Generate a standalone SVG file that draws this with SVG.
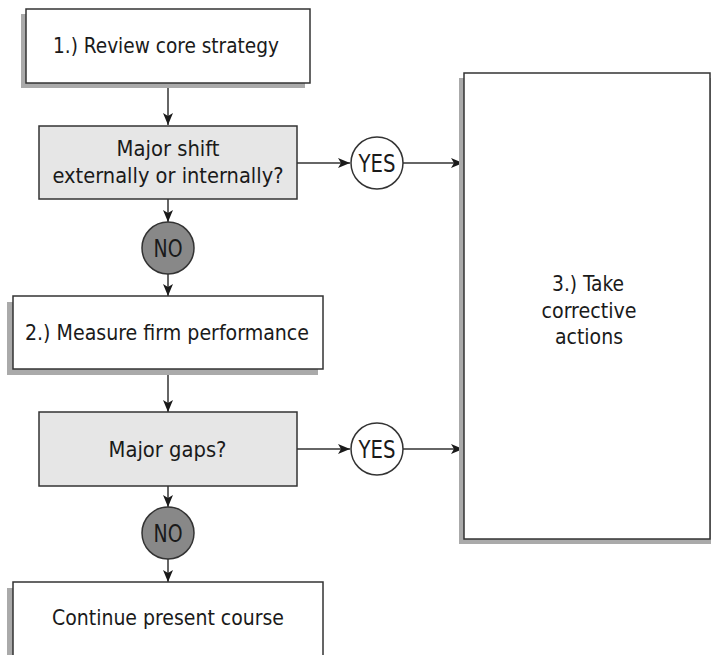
<svg xmlns="http://www.w3.org/2000/svg" width="712" height="655" viewBox="0 0 712 655">
<style>
.box{fill:#fff;stroke:#333;stroke-width:1.5}
.dec{fill:#e6e6e6;stroke:#333;stroke-width:1.5}
.sh{fill:#aaa}
.yes{fill:#fff;stroke:#333;stroke-width:1.5}
.no{fill:#888;stroke:#333;stroke-width:1.5}
.t{font-family:"DejaVu Sans Condensed","Liberation Sans Narrow","Liberation Sans",sans-serif;font-stretch:condensed;font-size:21px;fill:#1a1a1a;text-anchor:middle}
.b{font-size:24px}
.c{fill:none;stroke:#333;stroke-width:1.5;marker-end:url(#ah)}
</style>
<defs>
<marker id="ah" viewBox="0 0 12 10" refX="12" refY="5" markerWidth="12" markerHeight="10" markerUnits="userSpaceOnUse" orient="auto">
<path d="M0,0 L12,5 L0,10 L3,5 Z" fill="#1a1a1a"/>
</marker>
</defs>
<g id="connectors">
<line class="c" x1="168" y1="83" x2="168" y2="125"/>
<line class="c" x1="297" y1="163" x2="350" y2="163"/>
<line class="c" x1="403" y1="163" x2="463" y2="163"/>
<line class="c" x1="168" y1="199" x2="168" y2="222"/>
<line class="c" x1="168" y1="274" x2="168" y2="296"/>
<line class="c" x1="168" y1="369" x2="168" y2="412"/>
<line class="c" x1="297" y1="449" x2="350" y2="449"/>
<line class="c" x1="403" y1="449" x2="463" y2="449"/>
<line class="c" x1="168" y1="486" x2="168" y2="507"/>
<line class="c" x1="168" y1="559" x2="168" y2="582"/>
</g>
<g id="review">
<rect class="sh" x="21" y="14" width="284" height="74"/>
<rect class="box" x="26" y="9" width="284" height="74"/>
<text class="t" x="166" y="53" textLength="226" lengthAdjust="spacingAndGlyphs">1.) Review core strategy</text>
</g>
<g id="shift">
<rect class="dec" x="39" y="126" width="258" height="73"/>
<text class="t" x="168" y="156" textLength="103" lengthAdjust="spacingAndGlyphs">Major shift</text>
<text class="t" x="168" y="183" textLength="231" lengthAdjust="spacingAndGlyphs">externally or internally?</text>
</g>
<g id="yes1">
<circle class="yes" cx="377" cy="163" r="26"/>
<text class="t b" x="377" y="171.5" textLength="37" lengthAdjust="spacingAndGlyphs">YES</text>
</g>
<g id="no1">
<circle class="no" cx="168" cy="248" r="26"/>
<text class="t b" x="168" y="257" textLength="29" lengthAdjust="spacingAndGlyphs">NO</text>
</g>
<g id="measure">
<rect class="sh" x="7" y="302" width="311" height="73"/>
<rect class="box" x="13" y="296" width="310" height="73"/>
<text class="t" x="167" y="340" textLength="284" lengthAdjust="spacingAndGlyphs">2.) Measure firm performance</text>
</g>
<g id="gaps">
<rect class="dec" x="39" y="412" width="258" height="74"/>
<text class="t" x="167.5" y="456.5" textLength="118" lengthAdjust="spacingAndGlyphs">Major gaps?</text>
</g>
<g id="yes2">
<circle class="yes" cx="377" cy="449" r="26"/>
<text class="t b" x="377" y="457.5" textLength="37" lengthAdjust="spacingAndGlyphs">YES</text>
</g>
<g id="no2">
<circle class="no" cx="168" cy="533" r="26"/>
<text class="t b" x="168" y="542" textLength="29" lengthAdjust="spacingAndGlyphs">NO</text>
</g>
<g id="continue">
<rect class="sh" x="7" y="588" width="311" height="80"/>
<rect class="box" x="13" y="582" width="310" height="80"/>
<text class="t" x="168" y="625" textLength="232" lengthAdjust="spacingAndGlyphs">Continue present course</text>
</g>
<g id="corrective">
<rect class="sh" x="459" y="78" width="252" height="466"/>
<rect class="box" x="464" y="73" width="246" height="466"/>
<text class="t" x="588" y="291" textLength="72" lengthAdjust="spacingAndGlyphs">3.) Take</text>
<text class="t" x="589" y="317.5" textLength="95" lengthAdjust="spacingAndGlyphs">corrective</text>
<text class="t" x="589" y="343.5" textLength="68" lengthAdjust="spacingAndGlyphs">actions</text>
</g>
</svg>
